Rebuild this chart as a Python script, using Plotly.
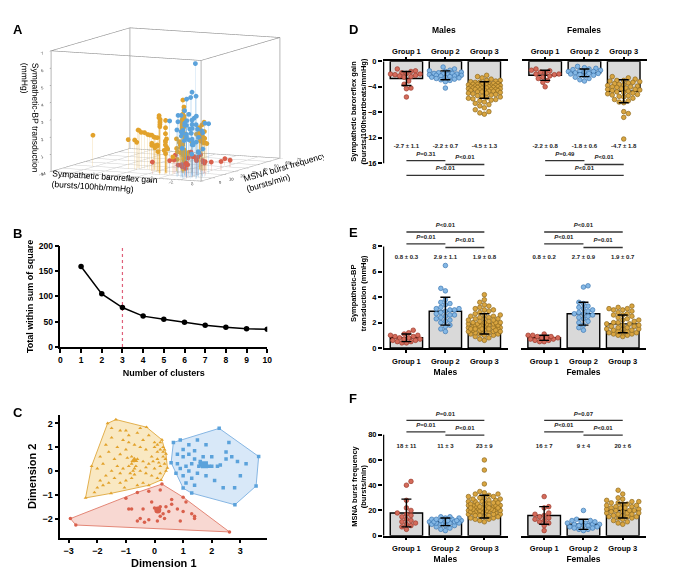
import numpy as np
import plotly.graph_objects as go

W, H = 680, 579
FONT = "Liberation Sans"


def fx(px):
    return px / W


def fy(py):
    return 1 - py / H


# ---------------- data ----------------
# Panel A axis ranges / ticks
gain_range = [-14, 0]
msna_range = [0, 70]
trans_range = [0, 7]
gain_ticks = [-14, -12, -10, -8, -6, -4, -2, 0]
msna_ticks = [0, 10, 20, 30, 40, 50, 60, 70]

# Panel B: elbow plot
clusters = list(range(1, 11))
wss = [159, 105, 78, 61, 55, 49, 43, 39, 36, 35]
optimal_k = 3

# Panel C: cluster plot (Dimension 1, Dimension 2)
c_yellow = [(-1.64, 2.0), (-1.35, 2.16), (-0.28, 1.84), (0.26, 1.31), (0.40, 0.72), (0.45, 0.13),
            (0.23, -0.38), (-1.52, -0.94), (-2.41, -1.13),
            (-1.2, 1.7), (-0.9, 1.5), (-0.6, 1.6), (-0.4, 1.3), (-0.2, 1.5), (0.0, 1.2), (0.1, 1.1),
            (0.2, 1.2), (0.3, 1.0), (0.35, 0.9), (0.3, 0.8), (0.2, 0.9), (0.1, 0.8), (0.0, 1.0),
            (0.38, 0.5), (0.35, 0.3), (0.4, 0.0), (0.2, 0.2), (0.1, 0.5), (-0.1, 0.6),
            (-0.3, 0.9), (-0.5, 1.0), (-0.7, 1.1), (-0.9, 1.2), (-1.1, 1.3), (-1.3, 1.0), (-1.5, 1.4),
            (-1.7, 1.1), (-1.9, 0.6), (-1.6, 0.8), (-1.4, 0.5), (-1.2, 0.7), (-1.0, 0.9), (-0.8, 0.6),
            (-0.6, 0.5), (-0.4, 0.4), (-0.2, 0.3), (0.0, 0.1), (0.2, -0.1), (0.1, -0.3),
            (-0.1, -0.2), (-0.3, -0.1), (-0.5, 0.0), (-0.7, 0.1), (-0.8, 0.3), (-0.75, 0.4), (-0.9, 0.2),
            (-1.1, 0.1), (-1.3, 0.2), (-1.5, 0.0), (-1.7, -0.2), (-1.9, -0.4), (-2.0, -0.7), (-1.8, -0.6),
            (-1.6, -0.5), (-1.4, -0.3), (-1.2, -0.5), (-1.0, -0.4), (-0.8, -0.3), (-0.6, -0.6),
            (-0.4, -0.5), (-0.2, -0.6), (-0.85, -0.1), (-0.7, -0.15), (-0.75, 0.0), (-0.65, 0.2),
            (-2.2, 0.2), (-2.0, 0.1), (-1.8, 0.3), (-2.1, -0.9), (-1.0, 1.7), (-0.5, 1.8), (-1.5, 1.8),
            (-0.05, 0.4), (0.3, 0.6), (-1.2, -0.1), (-0.95, 0.55), (-0.3, 0.15), (0.15, 0.35), (-1.05, -0.7)]
c_blue = [(0.66, 1.20), (0.90, 1.30), (2.26, 1.79), (3.64, 0.61), (3.55, -0.63), (2.81, -1.42),
          (1.30, -0.93), (1.00, -0.72), (0.58, 0.35),
          (1.0, 0.9), (1.2, 1.1), (1.5, 1.3), (1.8, 1.1), (0.8, 0.7), (1.0, 0.6), (1.2, 0.7), (1.4, 0.5),
          (1.6, 0.4), (1.7, 0.6), (1.65, 0.25), (1.55, 0.2), (1.7, 0.3), (1.6, 0.3), (1.9, 0.2), (2.0, 0.2),
          (2.2, 0.2), (2.3, 0.25), (2.5, 0.5), (2.7, 0.6), (2.9, 0.4), (2.5, 0.8), (2.0, 0.6), (0.8, 0.3),
          (0.9, 0.1), (1.1, 0.2), (1.3, 0.3), (1.2, 0.0), (1.0, -0.2), (1.3, -0.3), (1.5, -0.1), (1.1, -0.5),
          (1.4, -0.6), (2.1, -0.4), (2.4, -0.7), (2.8, -0.7), (3.0, -0.2), (3.2, 0.3), (0.75, -0.1),
          (1.8, -0.2), (2.6, 1.2), (1.4, 0.85)]
c_red = [(0.26, -0.55), (-2.94, -2.0), (-2.75, -2.27), (2.62, -2.56),
         (-1.0, -1.15), (-0.6, -0.9), (-0.2, -0.85), (0.2, -0.8), (0.6, -1.2), (1.0, -1.1), (1.1, -1.3),
         (-0.9, -1.6), (-0.8, -1.6), (-0.4, -1.6), (0.0, -1.55), (0.2, -1.5), (0.4, -1.5), (0.5, -1.7),
         (0.8, -1.6), (1.0, -1.7), (1.3, -1.8), (1.4, -1.9), (-0.5, -2.0), (-0.2, -2.05), (-0.6, -2.1),
         (-0.35, -2.15), (0.1, -2.1), (0.2, -1.9), (0.3, -1.8), (0.9, -2.1), (0.6, -1.4), (-0.1, -1.3),
         (1.4, -2.0), (0.35, -2.0)]

groups = ["Group 1", "Group 2", "Group 3"]

# Panel D: sympathetic baroreflex gain (bursts/100 heartbeats/mmHg)
gain_m_g1 = [-1.2, -1.5, -1.6, -1.8, -1.9, -2.0, -2.0, -2.1, -2.2, -2.3, -2.4, -2.5, -3.1, -3.6, -4.2, -4.3, -5.6]
gain_m_g2 = [-0.9, -1.2, -1.4, -1.5, -1.6, -1.7, -1.8, -1.9, -1.9, -2.0,
             -2.0, -2.1, -2.1, -2.2, -2.2, -2.3, -2.3, -2.4, -2.5, -2.5,
             -2.6, -2.7, -2.8, -2.9, -3.0, -3.2, -4.2]
gain_m_g3 = [-2.2, -2.4, -2.6, -2.8, -3.0, -3.0, -3.1, -3.2, -3.3, -3.3,
             -3.4, -3.4, -3.5, -3.5, -3.6, -3.6, -3.6, -3.7, -3.7, -3.8,
             -3.8, -3.9, -3.9, -3.9, -4.0, -4.0, -4.0, -4.0, -4.1, -4.1,
             -4.2, -4.2, -4.2, -4.3, -4.3, -4.4, -4.4, -4.4, -4.5, -4.5,
             -4.6, -4.6, -4.7, -4.7, -4.8, -4.8, -4.9, -5.0, -5.0, -5.1,
             -5.2, -5.3, -5.4, -5.5, -5.6, -5.7, -5.8, -5.9, -6.0, -6.1,
             -6.2, -6.4, -6.6, -6.8, -7.0, -7.3, -7.6, -7.9, -8.1, -8.3]
gain_f_g1 = [-1.2, -1.4, -1.5, -1.7, -1.8, -2.0, -2.0, -2.1, -2.3, -2.5, -2.7, -3.0, -3.3, -4.0]
gain_f_g2 = [-0.8, -1.0, -1.1, -1.2, -1.3, -1.4, -1.5, -1.6, -1.6, -1.7,
             -1.8, -1.9, -1.9, -2.0, -2.1, -2.2, -2.3, -2.5, -2.7, -2.9, -3.1]
gain_f_g3 = [-2.4, -2.6, -2.8, -3.0, -3.1, -3.2, -3.3, -3.4, -3.5, -3.6,
             -3.7, -3.8, -3.9, -4.0, -4.0, -4.1, -4.2, -4.3, -4.4, -4.5,
             -4.6, -4.7, -4.8, -4.9, -5.0, -5.1, -5.2, -5.3, -5.4, -5.5,
             -5.6, -5.8, -6.0, -6.2, -6.4, -6.5, -7.9, -8.2, -8.8, -12.2,
             -3.0, -4.4]
gain_mean_m = [-2.7, -2.2, -4.5]
gain_sd_m = [1.1, 0.7, 1.3]
gain_mean_f = [-2.2, -1.8, -4.7]
gain_sd_f = [0.8, 0.6, 1.8]
gain_p_m = ["=0.31", "<0.01", "<0.01"]   # G1-G2, G2-G3, G1-G3
gain_p_f = ["=0.49", "<0.01", "<0.01"]

# Panel E: sympathetic-BP transduction (mmHg)
trans_m_g1 = [0.9, 0.4, 1.2, 0.6, 0.8, 1.0, 0.5, 1.4, 0.7, 0.4, 1.1, 0.6, 0.9, 0.5, 0.8, 1.0, 0.7]
trans_m_g2 = [3.1, 1.5, 2.6, 4.7, 2.0, 3.4, 1.3, 2.8, 6.5, 2.2,
              3.0, 1.8, 2.5, 3.6, 2.1, 4.5, 2.7, 1.7, 3.2, 2.4,
              3.8, 2.6, 2.9, 3.0, 2.3, 3.5, 3.1]
trans_m_g3 = [1.6, 1.6, 1.6, 1.6, 1.7, 1.7, 1.7, 1.8, 1.8, 1.8,
              3.0, 3.1, 3.2, 3.3, 3.4, 3.6, 3.8, 4.2, 1.2, 1.6,
              0.6, 0.7, 0.8, 0.9, 1.0, 1.0, 1.1, 1.1, 1.2, 1.2,
              2.3, 2.3, 2.4, 2.4, 2.5, 2.5, 2.6, 2.7, 2.8, 2.9,
              1.4, 1.7, 1.9, 2.0, 2.3, 1.5, 1.8, 2.6, 1.1, 3.0,
              1.3, 1.3, 1.3, 1.4, 1.4, 1.4, 1.5, 1.5, 1.5, 1.5,
              1.9, 1.9, 1.9, 2.0, 2.0, 2.0, 2.1, 2.1, 2.2, 2.2]
trans_f_g1 = [0.8, 0.5, 1.0, 0.7, 0.9, 0.6, 1.1, 0.8, 0.5, 1.0, 0.7, 0.9, 0.6, 0.8]
trans_f_g2 = [2.6, 4.8, 1.6, 3.1, 2.3, 2.9, 1.4, 3.5, 2.0, 2.7,
              3.3, 2.4, 4.9, 1.8, 2.8, 3.0, 2.1, 3.6, 2.5, 3.2, 2.7]
trans_f_g3 = [1.9, 2.0, 2.0, 2.1, 2.2, 2.3, 2.4, 2.5, 2.6, 2.7,
              2.2, 2.6,
              0.9, 1.0, 1.0, 1.1, 1.1, 1.2, 1.2, 1.3, 1.3, 1.4,
              2.8, 2.9, 3.0, 3.0, 3.1, 3.1, 3.2, 3.3, 1.2, 1.5,
              1.4, 1.5, 1.5, 1.6, 1.6, 1.7, 1.7, 1.8, 1.8, 1.9]
trans_mean_m = [0.8, 2.9, 1.9]
trans_sd_m = [0.3, 1.1, 0.8]
trans_mean_f = [0.8, 2.7, 1.9]
trans_sd_f = [0.2, 0.9, 0.7]
trans_p_m = ["=0.01", "<0.01", "<0.01"]
trans_p_f = ["<0.01", "=0.01", "<0.01"]

# Panel F: MSNA burst frequency (bursts/min)
msna_m_g1 = [13, 40, 8, 20, 5, 16, 28, 11, 9, 43, 15, 7, 22, 17, 12, 18, 10]
msna_m_g2 = [12, 9, 14, 5, 11, 10, 15, 8, 13, 4,
             11, 12, 7, 10, 13, 9, 14, 6, 11, 15,
             10, 8, 12, 13, 11, 10, 12]
msna_m_g3 = [26, 27, 27, 28, 28, 29, 29, 30, 30, 31,
             17, 17, 18, 18, 18, 19, 19, 19, 20, 20,
             21, 23, 16, 25, 27, 13, 20, 22, 24, 18,
             23, 23, 24, 24, 24, 25, 25, 25, 26, 26,
             11, 12, 13, 14, 14, 15, 15, 16, 16, 17,
             31, 32, 33, 33, 34, 35, 41, 52, 60, 19,
             20, 20, 21, 21, 21, 22, 22, 22, 22, 23]
msna_f_g1 = [15, 31, 10, 18, 4, 22, 13, 16, 8, 23, 12, 17, 11, 14]
msna_f_g2 = [9, 5, 12, 7, 10, 20, 6, 11, 8, 13, 9, 5, 10, 12, 4, 8, 11, 6, 9, 7, 8]
msna_f_g3 = [26, 26, 27, 27, 28, 29, 30, 33, 36, 18,
             21, 21, 22, 22, 23, 23, 24, 24, 25, 25,
             22, 15,
             9, 10, 11, 12, 13, 14, 14, 15, 15, 16,
             16, 17, 17, 18, 18, 19, 19, 20, 20, 20]
msna_mean_m = [18, 11, 23]
msna_sd_m = [11, 3, 9]
msna_mean_f = [16, 9, 20]
msna_sd_f = [7, 4, 6]
msna_p_m = ["=0.01", "<0.01", "=0.01"]
msna_p_f = ["<0.01", "<0.01", "=0.07"]

# ---------------- styles ----------------
RED, BLUE, YEL = "#D9604C", "#5BA2DB", "#E2A22B"
DOT_FILL = ["#D46B5B", "#85B8E5", "#D9A540"]
DOT_EDGE = ["#9C3A2B", "#3D78B3", "#8E6A1F"]
HULL_FILL = ["rgba(240,168,155,0.45)", "rgba(168,205,240,0.45)", "rgba(242,204,120,0.45)"]
HULL_EDGE = ["#E38676", "#86B6E3", "#E3B04E"]

fig = go.Figure()
layout = dict(
    width=W, height=H, margin=dict(l=0, r=0, t=0, b=0),
    paper_bgcolor="white", plot_bgcolor="white", showlegend=False,
    font=dict(family=FONT, color="black"),
)
annotations = []


def label(text, px, py, size=13):
    annotations.append(dict(text="<b>%s</b>" % text, x=fx(px), y=fy(py), xref="paper", yref="paper",
                            showarrow=False, xanchor="left", yanchor="middle",
                            font=dict(size=size, family=FONT)))


def ptext(s):
    return "<i>P</i>" + s.replace("<", "&lt;")


# ---------------- Panel A: 3D scatter ----------------
# floor grid and wireframe box built from the axis ranges / ticks
gx0, gx1 = gain_range
my0, my1 = msna_range
tz0, tz1 = trans_range
fl_x, fl_y, fl_z = [], [], []
for t in gain_ticks:
    fl_x += [t, t, None]
    fl_y += [my0, my1, None]
    fl_z += [tz0, tz0, None]
for t in msna_ticks:
    fl_x += [gx0, gx1, None]
    fl_y += [t, t, None]
    fl_z += [tz0, tz0, None]
fig.add_trace(go.Scatter3d(x=fl_x, y=fl_y, z=fl_z, mode="lines", scene="scene",
                           line=dict(color="#cfcfcf", width=1), hoverinfo="skip"))
bx, by, bz = [], [], []
corners = [(a, b, c) for a in (gx0, gx1) for b in (my0, my1) for c in (tz0, tz1)]
for i, p in enumerate(corners):
    for q in corners[i + 1:]:
        if sum(1 for u, v in zip(p, q) if u != v) == 1:
            bx += [p[0], q[0], None]
            by += [p[1], q[1], None]
            bz += [p[2], q[2], None]
fig.add_trace(go.Scatter3d(x=bx, y=by, z=bz, mode="lines", scene="scene",
                           line=dict(color="#8c8c8c", width=1.2), hoverinfo="skip"))

a_groups = [
    (gain_m_g1 + gain_f_g1, msna_m_g1 + msna_f_g1, trans_m_g1 + trans_f_g1, RED),
    (gain_m_g2 + gain_f_g2, msna_m_g2 + msna_f_g2, trans_m_g2 + trans_f_g2, BLUE),
    (gain_m_g3 + gain_f_g3, msna_m_g3 + msna_f_g3, trans_m_g3 + trans_f_g3, YEL),
]
for gx, gy, gz, col in a_groups:
    lx, ly, lz = [], [], []
    for a, b, c in zip(gx, gy, gz):
        lx += [a, a, None]
        ly += [b, b, None]
        lz += [c, 0, None]
    fig.add_trace(go.Scatter3d(x=lx, y=ly, z=lz, mode="lines", scene="scene",
                               line=dict(color=col, width=1.2), opacity=0.35, hoverinfo="skip"))
for gx, gy, gz, col in a_groups:
    n = min(len(gx), len(gy), len(gz))
    fig.add_trace(go.Scatter3d(x=gx[:n], y=gy[:n], z=gz[:n], mode="markers", scene="scene",
                               marker=dict(size=2.8, color=col, line=dict(width=0))))

ax3 = dict(showbackground=False, showgrid=False, showline=False,
           ticks="outside", ticklen=3, tickcolor="#777", showticklabels=True,
           tickfont=dict(size=7, color="#333"),
           showspikes=False, zeroline=False)
layout["scene"] = dict(
    domain=dict(x=[fx(5), fx(325)], y=[fy(200), fy(2)]),
    xaxis=dict(ax3, range=gain_range, tickvals=gain_ticks,
               title=dict(text="Sympathetic baroreflex gain<br>(bursts/100hb/mmHg)", font=dict(size=8.5))),
    yaxis=dict(ax3, range=msna_range, tickvals=msna_ticks,
               title=dict(text="MSNA burst frequency<br>(bursts/min)", font=dict(size=8.5))),
    zaxis=dict(ax3, range=trans_range, dtick=1,
               title=dict(text="Sympathetic-BP transduction<br>(mmHg)", font=dict(size=8.5))),
    aspectmode="manual", aspectratio=dict(x=1.7, y=1.9, z=1.25),
    camera=dict(eye=dict(x=0.80, y=-1.70, z=0.26), up=dict(x=0, y=0, z=1),
                center=dict(x=0.0, y=0, z=0.0), projection=dict(type="orthographic")),
)

# ---------------- Panel B: elbow ----------------
fig.add_trace(go.Scatter(x=[optimal_k, optimal_k], y=[0, 200], mode="lines", xaxis="x", yaxis="y",
                         line=dict(color="#E0607A", width=1.2, dash="dot"), hoverinfo="skip"))
fig.add_trace(go.Scatter(x=clusters, y=wss, mode="lines+markers", xaxis="x", yaxis="y",
                         line=dict(color="black", width=1.5), marker=dict(color="black", size=5.5)))
axis_common = dict(showline=True, linecolor="black", linewidth=1.5, ticks="outside", ticklen=4,
                   tickwidth=1.5, tickcolor="black", showgrid=False, zeroline=False)
layout["xaxis"] = dict(axis_common, domain=[fx(59), fx(268)], anchor="y", range=[0, 10], dtick=1,
                       tickfont=dict(size=8.5, weight="bold"),
                       title=dict(text="<b>Number of clusters</b>", font=dict(size=9), standoff=6))
layout["yaxis"] = dict(axis_common, domain=[fy(348), fy(245)], anchor="x", range=[0, 200], dtick=50,
                       tickfont=dict(size=8.5, weight="bold"),
                       title=dict(text="<b>Total within sum of square</b>", font=dict(size=9), standoff=4))

# ---------------- Panel C: clusters ----------------


def hull(pts):
    p = sorted(set(pts))

    def cross(o, a, b):
        return (a[0] - o[0]) * (b[1] - o[1]) - (a[1] - o[1]) * (b[0] - o[0])
    lower, upper = [], []
    for q in p:
        while len(lower) >= 2 and cross(lower[-2], lower[-1], q) <= 0:
            lower.pop()
        lower.append(q)
    for q in reversed(p):
        while len(upper) >= 2 and cross(upper[-2], upper[-1], q) <= 0:
            upper.pop()
        upper.append(q)
    h = lower[:-1] + upper[:-1]
    return h + [h[0]]


c_sets = [(c_red, "circle", 0), (c_blue, "square", 1), (c_yellow, "triangle-up", 2)]
for pts, sym, i in c_sets:
    h = hull(pts)
    fig.add_trace(go.Scatter(x=[q[0] for q in h], y=[q[1] for q in h], mode="lines", fill="toself",
                             fillcolor=HULL_FILL[i], line=dict(color=HULL_EDGE[i], width=1),
                             xaxis="x2", yaxis="y2", hoverinfo="skip"))
for pts, sym, i in c_sets:
    col = [RED, BLUE, YEL][i]
    fig.add_trace(go.Scatter(x=[q[0] for q in pts], y=[q[1] for q in pts], mode="markers",
                             marker=dict(symbol=sym, size=3.5, color=col), xaxis="x2", yaxis="y2"))
    fig.add_trace(go.Scatter(x=[float(np.mean([q[0] for q in pts]))], y=[float(np.mean([q[1] for q in pts]))],
                             mode="markers", marker=dict(symbol=sym, size=7, color=col),
                             xaxis="x2", yaxis="y2"))
layout["xaxis2"] = dict(axis_common, domain=[fx(59), fx(268)], anchor="y2", range=[-3.29, 3.94],
                        tickvals=[-3, -2, -1, 0, 1, 2, 3], tickfont=dict(size=9, weight="bold"),
                        title=dict(text="<b>Dimension 1</b>", font=dict(size=11), standoff=4))
layout["yaxis2"] = dict(axis_common, domain=[fy(542), fy(417)], anchor="x2", range=[-2.8, 2.36],
                        tickvals=[-2, -1, 0, 1, 2], tickfont=dict(size=9, weight="bold"),
                        title=dict(text="<b>Dimension 2</b>", font=dict(size=11), standoff=4))

# ---------------- Panels D/E/F ----------------
XR = [-0.6, 2.6]
PPX = 39.4


def swarm(vals, ppy, mind=4.6, maxw=18.0):
    vals = np.asarray(vals, dtype=float)
    order = np.argsort(vals)
    placed = []
    xs = np.zeros(len(vals))
    step = mind * 0.5
    for n, i in enumerate(order):
        ypx = vals[i] * ppy
        k = 0
        found, best, bestd = None, 0.0, -1.0
        while found is None and k * step <= maxw:
            if k == 0:
                cands = [0.0]
            else:
                cands = [k * step, -k * step] if n % 2 == 0 else [-k * step, k * step]
            for c in cands:
                md = min([np.hypot(c - a, ypx - b) for a, b in placed], default=1e9)
                if md >= mind:
                    found = c
                    break
                if md > bestd:
                    bestd, best = md, c
            k += 1
        if found is None:
            found = best
        placed.append((found, ypx))
        xs[i] = found / PPX
    return xs


def group_panel(xa, ya, vals, means, sds, ppy, mean_y, pline_y, ptext_y, ptexts, yaxis_top=None):
    xr, yr = xa.replace("axis", ""), ya.replace("axis", "")
    fig.add_trace(go.Bar(x=[0, 1, 2], y=means, width=0.83, xaxis=xr, yaxis=yr,
                         marker=dict(color="#D9D9D9", line=dict(color="black", width=1.4))))
    for g in range(3):
        offs = swarm(vals[g], ppy)
        fig.add_trace(go.Scatter(x=g + offs, y=vals[g], mode="markers", xaxis=xr, yaxis=yr,
                                 marker=dict(size=4.6, color=DOT_FILL[g],
                                             line=dict(color=DOT_EDGE[g], width=0.7))))
    fig.add_trace(go.Scatter(x=[0, 1, 2], y=means, mode="markers", xaxis=xr, yaxis=yr,
                             marker=dict(size=1, color="rgba(0,0,0,0)"),
                             error_y=dict(type="data", array=sds, color="black", thickness=1.4, width=5)))
    fig.add_trace(go.Scatter(x=[0, 1, 2], y=[mean_y] * 3, mode="text", xaxis=xr, yaxis=yr,
                             text=["<b>%g ± %g</b>" % (m, s) for m, s in zip(means, sds)],
                             textfont=dict(size=6, color="#222"), cliponaxis=False))
    pairs = [(0, 1), (1, 2), (0, 2)]
    for (a, b), ly, ty, t in zip(pairs, pline_y, ptext_y, ptexts):
        fig.add_trace(go.Scatter(x=[a, b], y=[ly, ly], mode="lines", xaxis=xr, yaxis=yr,
                                 line=dict(color="#333", width=1.3), hoverinfo="skip"))
        fig.add_trace(go.Scatter(x=[(a + b) / 2], y=[ty], mode="text", xaxis=xr, yaxis=yr,
                                 text=["<b>" + ptext(t) + "</b>"], textfont=dict(size=6, color="#222"),
                                 cliponaxis=False))
    if yaxis_top is not None:
        fig.add_trace(go.Scatter(x=[XR[0] + 0.012] * 2, y=[0, yaxis_top], mode="lines", xaxis=xr, yaxis=yr,
                                 line=dict(color="black", width=1.5), hoverinfo="skip"))


tickf = dict(size=7.5, weight="bold")
ytickf = dict(size=7.5, weight="bold")

# D
D_dom_y = [fy(177.2), fy(57.3)]
for xa, ya, dom_x, vals, means, sds, pt, show in [
    ("xaxis3", "yaxis3", [fx(385), fx(511)], [gain_m_g1, gain_m_g2, gain_m_g3], gain_mean_m, gain_sd_m, gain_p_m, True),
    ("xaxis4", "yaxis4", [fx(525), fx(652)], [gain_f_g1, gain_f_g2, gain_f_g3], gain_mean_f, gain_sd_f, gain_p_f, False),
]:
    group_panel(xa, ya, vals, means, sds, 6.48, -13.4, [-15.6, -16.2, -17.9], [-14.6, -15.15, -16.9], pt,
                yaxis_top=-16 if show else None)
    layout[xa] = dict(axis_common, domain=dom_x, anchor=ya.replace("axis", ""), side="top", range=XR,
                      tickvals=[0, 1, 2], ticktext=groups, tickfont=tickf, ticklen=3)
    layout[ya] = dict(domain=D_dom_y, anchor=xa.replace("axis", ""), range=[-18.5, 0], showgrid=False,
                      zeroline=False, showline=False, visible=show, tickvals=[0, -4, -8, -12, -16],
                      ticks="outside", ticklen=4, tickwidth=1.5, tickcolor="black", tickfont=ytickf)

# E
E_dom_y = [fy(349), fy(219.9)]
for xa, ya, dom_x, vals, means, sds, pt, show, sex in [
    ("xaxis5", "yaxis5", [fx(385), fx(511)], [trans_m_g1, trans_m_g2, trans_m_g3], trans_mean_m, trans_sd_m, trans_p_m, True, "Males"),
    ("xaxis6", "yaxis6", [fx(524), fx(651)], [trans_f_g1, trans_f_g2, trans_f_g3], trans_mean_f, trans_sd_f, trans_p_f, False, "Females"),
]:
    group_panel(xa, ya, vals, means, sds, 12.9, 7.1, [8.2, 7.92, 9.14], [8.72, 8.45, 9.62], pt,
                yaxis_top=8 if show else None)
    layout[xa] = dict(axis_common, domain=dom_x, anchor=ya.replace("axis", ""), range=XR,
                      tickvals=[0, 1, 2], ticktext=groups, tickfont=tickf, ticklen=3, ticklabelstandoff=2,
                      title=dict(text="<b>%s</b>" % sex, font=dict(size=8.5), standoff=4))
    layout[ya] = dict(domain=E_dom_y, anchor=xa.replace("axis", ""), range=[0, 10], showgrid=False,
                      zeroline=False, showline=False, visible=show, tickvals=[0, 2, 4, 6, 8],
                      ticks="outside", ticklen=4, tickwidth=1.5, tickcolor="black", tickfont=ytickf)

# F
F_dom_y = [fy(540), fy(411.6)]
for xa, ya, dom_x, vals, means, sds, pt, show, sex in [
    ("xaxis7", "yaxis7", [fx(385), fx(511)], [msna_m_g1, msna_m_g2, msna_m_g3], msna_mean_m, msna_sd_m, msna_p_m, True, "Males"),
    ("xaxis8", "yaxis8", [fx(524), fx(651)], [msna_f_g1, msna_f_g2, msna_f_g3], msna_mean_f, msna_sd_f, msna_p_f, False, "Females"),
]:
    group_panel(xa, ya, vals, means, sds, 1.284, 71, [82.3, 79.7, 91.4], [87.2, 84.8, 96.2], pt,
                yaxis_top=80 if show else None)
    layout[xa] = dict(axis_common, domain=dom_x, anchor=ya.replace("axis", ""), range=XR,
                      tickvals=[0, 1, 2], ticktext=groups, tickfont=tickf, ticklen=3, ticklabelstandoff=2,
                      title=dict(text="<b>%s</b>" % sex, font=dict(size=8.5), standoff=4))
    layout[ya] = dict(domain=F_dom_y, anchor=xa.replace("axis", ""), range=[0, 100], showgrid=False,
                      zeroline=False, showline=False, visible=show, tickvals=[0, 20, 40, 60, 80],
                      ticks="outside", ticklen=4, tickwidth=1.5, tickcolor="black", tickfont=ytickf)

# titles / labels
for t, px in [("Males", 447), ("Females", 588)]:
    annotations.append(dict(text="<b>%s</b>" % t, x=fx(px), y=fy(25), xref="paper", yref="paper",
                            xanchor="center", yanchor="middle", showarrow=False, font=dict(size=8.5)))
for t, px, py in [("Sympathetic baroreflex gain<br>(bursts/100heartbeats/mmHg)", 360, 108),
                  ("Sympathetic-BP<br>transduction (mmHg)", 361, 293),
                  ("MSNA burst frequency<br>(bursts/min)", 361, 490)]:
    annotations.append(dict(text="<b>%s</b>" % t, x=fx(px), y=fy(py), xref="paper", yref="paper",
                            xanchor="center", yanchor="middle",
                            showarrow=False, textangle=-90, font=dict(size=7.5)))

label("A", 9, 25)
label("B", 9, 233)
label("C", 9, 415)
label("D", 349, 25)
label("E", 349, 232)
label("F", 349, 400)

layout["annotations"] = annotations
fig.update_layout(**layout)
fig.write_html("out.html", config={"displayModeBar": False},
               post_script="document.body.style.margin='0px';document.body.style.overflow='hidden';")
